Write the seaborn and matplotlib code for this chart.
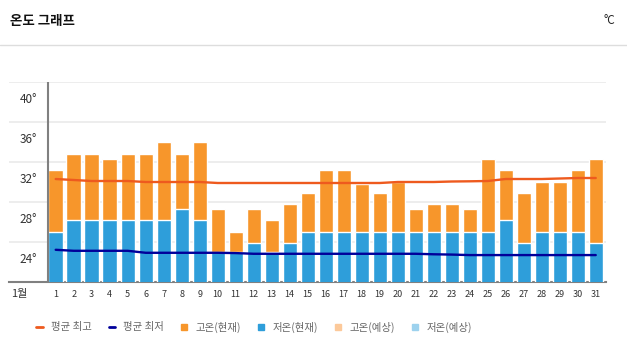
import numpy as np
import pandas as pd
import matplotlib
matplotlib.use("Agg")
import matplotlib.pyplot as plt
import matplotlib.transforms as mtransforms
from matplotlib.lines import Line2D
import seaborn as sns

# data
days = list(range(1, 32))
high_now = [31.2, 32.8, 32.8, 32.3, 32.8, 32.8, 34.0, 32.8, 34.0, 27.3,
            25.0, 27.3, 26.2, 27.8, 28.9, 31.2, 31.2, 29.8, 28.9, 30.0,
            27.3, 27.8, 27.8, 27.3, 32.3, 31.2, 28.9, 30.0, 30.0, 31.2,
            32.3]
low_now = [25.0, 26.2, 26.2, 26.2, 26.2, 26.2, 26.2, 27.3, 26.2, 23.0,
           23.0, 23.9, 23.0, 23.9, 25.0, 25.0, 25.0, 25.0, 25.0, 25.0,
           25.0, 25.0, 25.0, 25.0, 25.0, 26.2, 23.9, 25.0, 25.0, 25.0,
           23.9]
avg_high = [30.3, 30.2, 30.1, 30.1, 30.1, 30.0, 30.0, 30.0, 30.0, 29.9,
            29.9, 29.9, 29.9, 29.9, 29.9, 29.9, 29.9, 29.9, 29.9, 30.0,
            30.0, 30.0, 30.05, 30.07, 30.1, 30.3, 30.3, 30.3, 30.35, 30.4,
            30.4]
avg_low = [23.2, 23.1, 23.1, 23.1, 23.1, 22.9, 22.9, 22.9, 22.9, 22.9,
           22.87, 22.8, 22.8, 22.8, 22.8, 22.8, 22.8, 22.8, 22.8, 22.8,
           22.8, 22.75, 22.72, 22.67, 22.67, 22.67, 22.67, 22.67, 22.67, 22.67,
           22.67]
y_ticks = [24, 28, 32, 36, 40]
month_label = "1월"
legend_labels = ["평균 최고", "평균 최저", "고온(현재)", "저온(현재)", "고온(예상)", "저온(예상)"]

c_high = "#F7962B"
c_low = "#2E9EDA"
c_avg_high = "#EE5A1E"
c_avg_low = "#00009A"
c_high_fc = "#FCC99A"
c_low_fc = "#9DD2EE"

sns.set_style("white")
plt.rcParams["font.family"] = ["Noto Sans CJK KR", "DejaVu Sans"]

df = pd.DataFrame({"day": days, "high": high_now, "low": low_now,
                   "avg_high": avg_high, "avg_low": avg_low})

fig = plt.figure(figsize=(6.27, 3.52), dpi=100)
ax = fig.add_axes([9 / 627, 1 - 281.7 / 352, 597 / 627, 199.4 / 352])

sns.barplot(data=df, x="day", y="high", native_scale=True, color=c_high,
            saturation=1, width=0.8, errorbar=None, ax=ax, zorder=2)
sns.barplot(data=df, x="day", y="low", native_scale=True, color=c_low,
            saturation=1, width=0.8, errorbar=None, ax=ax, zorder=3)
sns.lineplot(data=df, x="day", y="avg_high", color=c_avg_high, lw=1.7, ax=ax, zorder=4)
sns.lineplot(data=df, x="day", y="avg_low", color=c_avg_low, lw=1.7, ax=ax, zorder=4)

ax.set_xlim(days[0] - 2.594, days[-1] + 0.57)
ax.set_ylim(20, 40)
ax.set_xlabel("")
ax.set_ylabel("")

# grid
ax.set_yticks(y_ticks)
ax.set_yticklabels([f"{v}°" for v in y_ticks])
ax.yaxis.grid(True, color="#ececec", lw=1.3, zorder=0)
ax.set_axisbelow(True)
ax.tick_params(axis="y", length=0, pad=-20, labelsize=8.5, labelcolor="#333333")
off = mtransforms.ScaledTranslation(0, -16 / 100, fig.dpi_scale_trans)
for lab in ax.get_yticklabels():
    lab.set_horizontalalignment("right")
    lab.set_transform(lab.get_transform() + off)

ax.set_xticks(days)
ax.set_xticklabels([str(d) for d in days])
ax.tick_params(axis="x", length=0, pad=6, labelsize=6.5, labelcolor="#333333")

for s in ["top", "right", "left"]:
    ax.spines[s].set_visible(False)
ax.spines["bottom"].set_color("#808080")
ax.spines["bottom"].set_linewidth(1.5)
ax.axvline(days[0] - 0.45, color="#808080", lw=1.5, zorder=5)

fig.text(19.5 / 627, 1 - 294 / 352, month_label, fontsize=8, color="#333333",
         ha="center", va="center")

# header
fig.text(10 / 627, 1 - 21 / 352, "온도 그래프", fontsize=9.7, weight="bold",
         color="#111111", va="center")
fig.text(609 / 627, 1 - 21 / 352, "°C", fontsize=8.5, color="#222222",
         ha="center", va="center")
fig.add_artist(Line2D([0, 1], [1 - 44.5 / 352] * 2, color="#dddddd", lw=1))

# legend
handles = [Line2D([], [], color=c_avg_high, lw=2),
           Line2D([], [], color=c_avg_low, lw=2),
           Line2D([], [], color=c_high, marker="s", ls="none", ms=5),
           Line2D([], [], color=c_low, marker="s", ls="none", ms=5),
           Line2D([], [], color=c_high_fc, marker="s", ls="none", ms=5),
           Line2D([], [], color=c_low_fc, marker="s", ls="none", ms=5)]
fig.legend(handles, legend_labels, loc="center left",
           bbox_to_anchor=(27 / 627, 1 - 327 / 352), ncol=6, frameon=False,
           fontsize=7.5, handlelength=0.6, handletextpad=0.8,
           columnspacing=1.62, labelcolor="#666666")

fig.savefig("out.png", dpi=100)
